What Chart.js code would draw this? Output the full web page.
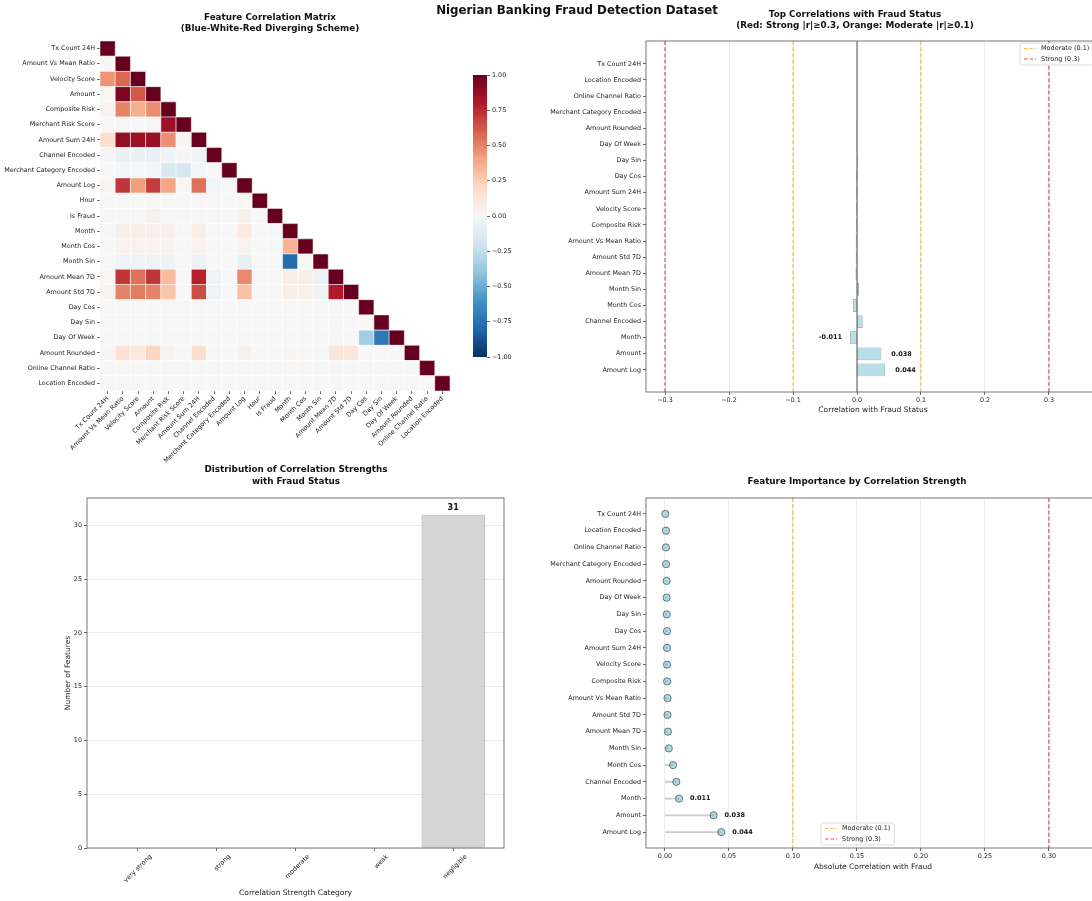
<!DOCTYPE html>
<html>
<head>
<meta charset="utf-8">
<title>Nigerian Banking Fraud Detection Dataset</title>
<script src="https://cdn.jsdelivr.net/npm/chart.js@4.4.1/dist/chart.umd.min.js"></script>
<style>
  html, body { margin: 0; padding: 0; background: #fff; }
  body { width: 1092px; height: 901px; position: relative; overflow: hidden; font-family: 'DejaVu Sans', sans-serif; color: #111; }
  canvas { position: absolute; }
  .ttl { position: absolute; transform: translate(-50%, -50%); text-align: center; font-weight: bold; font-size: 8.8px; line-height: 11px; white-space: nowrap; }
</style>
</head>
<body>
<canvas id="heat" width="460" height="470" style="left:0;top:0"></canvas>
<canvas id="cbar" width="80" height="420" style="left:460px;top:0"></canvas>
<canvas id="topcorr" width="600" height="430" style="left:540px;top:0"></canvas>
<canvas id="dist" width="540" height="451" style="left:0;top:450px"></canvas>
<canvas id="lolli" width="600" height="451" style="left:540px;top:450px"></canvas>

<div class="ttl" style="left:577px;top:10px;font-size:11.8px">Nigerian Banking Fraud Detection Dataset</div>
<div class="ttl" style="left:270px;top:23px">Feature Correlation Matrix<br>(Blue-White-Red Diverging Scheme)</div>
<div class="ttl" style="left:855px;top:19.5px">Top Correlations with Fraud Status<br>(Red: Strong |r|≥0.3, Orange: Moderate |r|≥0.1)</div>
<div class="ttl" style="left:296px;top:474.5px;line-height:12px">Distribution of Correlation Strengths<br>with Fraud Status</div>
<div class="ttl" style="left:857px;top:481px">Feature Importance by Correlation Strength</div>

<script>
// ---- data ----
const heatFeatures = ['Tx Count 24H', 'Amount Vs Mean Ratio', 'Velocity Score', 'Amount', 'Composite Risk',
  'Merchant Risk Score', 'Amount Sum 24H', 'Channel Encoded', 'Merchant Category Encoded', 'Amount Log',
  'Hour', 'Is Fraud', 'Month', 'Month Cos', 'Month Sin', 'Amount Mean 7D', 'Amount Std 7D', 'Day Cos',
  'Day Sin', 'Day Of Week', 'Amount Rounded', 'Online Channel Ratio', 'Location Encoded'];

// lower triangle of the correlation matrix (row i holds columns 0..i)
const heatCorr = [
  [1],
  [0.01, 1],
  [0.45, 0.58, 1],
  [0.01, 0.95, 0.62, 1],
  [0.04, 0.50, 0.36, 0.47, 1],
  [0.00, 0.01, 0.00, 0.01, 0.86, 1],
  [0.17, 0.88, 0.86, 0.87, 0.46, 0.02, 1],
  [-0.02, -0.07, -0.07, -0.07, -0.04, -0.02, -0.05, 1],
  [0.00, -0.02, -0.01, -0.02, -0.16, -0.18, -0.02, 0.00, 1],
  [0.02, 0.72, 0.42, 0.70, 0.40, 0.01, 0.55, -0.03, -0.01, 1],
  [0.00, 0.00, 0.00, 0.01, 0.00, 0.00, 0.00, 0.00, 0.00, 0.01, 1],
  [0.00, 0.00, 0.00, 0.04, 0.00, 0.00, 0.00, 0.01, 0.00, 0.04, 0.00, 1],
  [0.00, 0.06, 0.06, 0.05, 0.05, 0.01, 0.07, 0.00, 0.00, 0.09, 0.00, -0.01, 1],
  [0.00, 0.04, 0.04, 0.03, 0.03, 0.00, 0.04, 0.00, 0.00, 0.04, 0.00, -0.01, 0.35, 1],
  [0.00, -0.04, -0.05, -0.05, -0.04, 0.00, -0.06, 0.00, 0.00, -0.08, 0.00, 0.00, -0.78, 0.00, 1],
  [0.01, 0.72, 0.55, 0.72, 0.32, 0.00, 0.78, -0.05, 0.00, 0.48, 0.00, 0.00, 0.07, 0.06, -0.06, 1],
  [0.03, 0.50, 0.52, 0.50, 0.28, 0.00, 0.65, -0.04, 0.00, 0.30, 0.00, 0.00, 0.06, 0.05, -0.05, 0.80, 1],
  [0.00, 0.00, 0.00, 0.00, 0.00, 0.00, 0.00, 0.00, 0.00, 0.00, 0.00, 0.00, 0.00, 0.00, 0.00, 0.00, 0.00, 1],
  [0.00, 0.00, 0.00, 0.00, 0.00, 0.00, 0.00, 0.00, 0.00, 0.00, 0.00, 0.00, 0.00, 0.00, 0.00, 0.00, 0.00, 0.00, 1],
  [0.00, 0.00, 0.00, 0.00, 0.00, 0.00, 0.00, 0.00, 0.00, 0.00, 0.00, 0.00, 0.00, 0.00, 0.00, 0.00, 0.00, -0.35, -0.72, 1],
  [0.02, 0.15, 0.10, 0.22, 0.03, 0.00, 0.18, -0.01, 0.00, 0.05, 0.00, 0.00, 0.02, 0.01, -0.01, 0.12, 0.12, 0.00, 0.00, 0.00, 1],
  [0.00, 0.00, 0.00, 0.00, 0.00, 0.00, 0.00, 0.00, 0.00, 0.00, 0.00, 0.00, 0.00, 0.00, 0.00, 0.00, 0.00, 0.00, 0.00, 0.00, 0.00, 1],
  [0.00, 0.00, 0.00, 0.00, 0.00, 0.00, 0.00, 0.00, 0.00, 0.00, 0.00, 0.00, 0.00, 0.00, 0.00, 0.00, 0.00, 0.00, 0.00, 0.00, 0.00, 0.00, 1]
];
const cbarRange = [-1, 1];

// correlation of each feature with Is Fraud, sorted by |r| (top of the plot first)
const fraudFeatures = ['Tx Count 24H', 'Location Encoded', 'Online Channel Ratio', 'Merchant Category Encoded',
  'Amount Rounded', 'Day Of Week', 'Day Sin', 'Day Cos', 'Amount Sum 24H', 'Velocity Score', 'Composite Risk',
  'Amount Vs Mean Ratio', 'Amount Std 7D', 'Amount Mean 7D', 'Month Sin', 'Month Cos', 'Channel Encoded',
  'Month', 'Amount', 'Amount Log'];
const fraudCorr = [-0.0003, -0.0008, 0.0008, -0.0009, -0.0013, -0.0013, 0.0014, -0.0016, -0.0016, -0.0016,
  -0.0017, -0.0020, -0.0020, -0.0023, 0.0030, -0.0063, 0.0089, -0.011, 0.038, 0.044];
const fraudAbs = fraudCorr.map(v => Math.abs(v));

const strengthCats = ['very strong', 'strong', 'moderate', 'weak', 'negligible'];
const strengthCounts = [0, 0, 0, 0, 31];

const corrTicks = [-0.3, -0.2, -0.1, 0, 0.1, 0.2, 0.3];
const absTicks = [0, 0.05, 0.1, 0.15, 0.2, 0.25, 0.3];
const moderateCut = 0.1;
const strongCut = 0.3;
const labelCut = 0.01;

// ---- helpers ----
const rdbuStops = ['#053061', '#2166ac', '#4393c3', '#92c5de', '#d1e5f0', '#f7f7f7',
  '#fddbc7', '#f4a582', '#d6604d', '#b2182b', '#67001f'];

function hexRgb(h) {
  return [1, 3, 5].map(k => parseInt(h.substr(k, 2), 16));
}

function rdbu(v) {
  const t = (Math.max(-1, Math.min(1, v)) + 1) / 2 * 10;
  const k = Math.min(9, Math.floor(t));
  const f = t - k;
  const a = hexRgb(rdbuStops[k]), b = hexRgb(rdbuStops[k + 1]);
  const c = a.map((x, n) => Math.round(x + (b[n] - x) * f));
  return 'rgb(' + c.join(',') + ')';
}

const minus = s => s.replace('-', '\u2212');
const FONT = "'DejaVu Sans', sans-serif";
const MOD_COLOR = 'rgba(255,165,0,0.75)';
const STRONG_COLOR = 'rgba(200,40,60,0.8)';
const legendItems = [
  { label: 'Moderate (0.1)', color: MOD_COLOR },
  { label: 'Strong (0.3)', color: STRONG_COLOR }
];

Chart.defaults.font.family = FONT;
Chart.defaults.font.size = 6.4;
Chart.defaults.color = '#222';
Chart.defaults.animation = false;
Chart.defaults.responsive = false;
Chart.defaults.events = [];
Chart.defaults.plugins.legend.display = false;
Chart.defaults.plugins.tooltip.enabled = false;

const framePlugin = {
  id: 'frame',
  afterDraw(chart) {
    const a = chart.chartArea, ctx = chart.ctx;
    ctx.save();
    ctx.strokeStyle = '#555';
    ctx.lineWidth = 0.8;
    ctx.strokeRect(a.left, a.top, a.width, a.height);
    ctx.restore();
  }
};

function drawLegend(ctx, x, y) {
  ctx.save();
  ctx.font = '6.5px ' + FONT;
  const w = 25 + Math.max(...legendItems.map(it => ctx.measureText(it.label).width));
  const h = legendItems.length * 10.5 + 1;
  ctx.fillStyle = 'rgba(255,255,255,0.85)';
  ctx.strokeStyle = '#d4d4d4';
  ctx.lineWidth = 0.8;
  ctx.beginPath();
  if (ctx.roundRect) ctx.roundRect(x, y, w, h, 2); else ctx.rect(x, y, w, h);
  ctx.fill();
  ctx.stroke();
  legendItems.forEach((it, k) => {
    const cy = y + 5.5 + k * 10.5;
    ctx.strokeStyle = it.color;
    ctx.lineWidth = 1.2;
    ctx.setLineDash([3.5, 2]);
    ctx.beginPath();
    ctx.moveTo(x + 4, cy);
    ctx.lineTo(x + 16, cy);
    ctx.stroke();
    ctx.setLineDash([]);
    ctx.fillStyle = '#222';
    ctx.textBaseline = 'middle';
    ctx.fillText(it.label, x + 21, cy);
  });
  ctx.restore();
}

// vertical reference lines drawn through the x scale, plus the legend for them
function refPlugin(lines, legendAt) {
  return {
    id: 'refs',
    afterDatasetsDraw(chart) {
      const ctx = chart.ctx, a = chart.chartArea, x = chart.scales.x;
      ctx.save();
      ctx.beginPath();
      ctx.rect(a.left, a.top, a.width, a.height);
      ctx.clip();
      lines.forEach(l => {
        const px = x.getPixelForValue(l.value);
        ctx.strokeStyle = l.color;
        ctx.lineWidth = l.width;
        ctx.setLineDash(l.dash);
        ctx.beginPath();
        ctx.moveTo(px, a.top);
        ctx.lineTo(px, a.bottom);
        ctx.stroke();
      });
      ctx.restore();
    },
    afterDraw(chart) {
      const p = legendAt(chart.chartArea);
      drawLegend(chart.ctx, p.x, p.y);
    }
  };
}

const dashed = [4, 2.2];
const yIndexScale = (names, min, max, width) => ({
  type: 'linear', reverse: true, min: min, max: max, offset: false,
  afterBuildTicks: s => { s.ticks = names.map((n, i) => ({ value: i })); },
  ticks: { callback: v => names[v], autoSkip: false, padding: 2 },
  grid: { offset: false, drawOnChartArea: false, tickLength: 3, tickColor: '#444', lineWidth: 0.8 },
  border: { display: false },
  afterFit: s => { s.width = width; }
});

// ---- 1. correlation heatmap ----
const heatPoints = [];
heatCorr.forEach((row, i) => row.forEach((v, j) => {
  heatPoints.push({ x: heatFeatures[j], y: heatFeatures[i], v: v });
}));

function cellRadius(chart) {
  const a = chart.chartArea;
  if (!a) return 3;
  return (a.width / heatFeatures.length) / (2 * Math.SQRT1_2);
}

const heatAxis = (extra) => Object.assign({
  type: 'category', labels: heatFeatures, offset: true,
  grid: { offset: false, drawOnChartArea: false, tickLength: 3, tickColor: '#444', lineWidth: 0.8 },
  border: { display: false }
}, extra);

new Chart(document.getElementById('heat'), {
  type: 'scatter',
  data: {
    datasets: [{
      data: heatPoints,
      pointStyle: 'rect',
      pointRadius: c => cellRadius(c.chart),
      pointHoverRadius: c => cellRadius(c.chart),
      backgroundColor: c => (c.raw ? rdbu(c.raw.v) : '#fff'),
      borderColor: '#fff',
      borderWidth: 0.5
    }]
  },
  options: {
    layout: { padding: { top: 41, right: 10 }, autoPadding: false },
    scales: {
      x: heatAxis({
        ticks: { autoSkip: false, minRotation: 45, maxRotation: 45, padding: 1 },
        afterFit: s => { s.height = 79; }
      }),
      y: heatAxis({
        ticks: { autoSkip: false, padding: 2 },
        afterFit: s => { s.width = 100; }
      })
    }
  }
});

// colour bar
new Chart(document.getElementById('cbar'), {
  type: 'bar',
  data: {
    labels: [''],
    datasets: [{
      data: [cbarRange],
      barPercentage: 1,
      categoryPercentage: 1,
      borderWidth: 0,
      backgroundColor: c => {
        const a = c.chart.chartArea;
        if (!a) return '#f7f7f7';
        const g = c.chart.ctx.createLinearGradient(0, a.bottom, 0, a.top);
        rdbuStops.forEach((s, k) => g.addColorStop(k / (rdbuStops.length - 1), s));
        return g;
      }
    }]
  },
  options: {
    layout: { padding: { left: 13, top: 75, bottom: 63, right: 0 }, autoPadding: false },
    scales: {
      x: { display: false },
      y: {
        position: 'right', min: cbarRange[0], max: cbarRange[1],
        ticks: { stepSize: 0.25, padding: 2, callback: v => minus(v.toFixed(2)) },
        grid: { drawOnChartArea: false, tickLength: 3, tickColor: '#444', lineWidth: 0.8 },
        border: { display: false },
        afterFit: s => { s.width = 53; }
      }
    }
  }
});

// ---- 2. top correlations with fraud ----
const corrLabels = {
  id: 'corrLabels',
  afterDatasetsDraw(chart) {
    const ctx = chart.ctx, x = chart.scales.x, y = chart.scales.y;
    ctx.save();
    ctx.font = 'bold 6.5px ' + FONT;
    ctx.fillStyle = '#111';
    ctx.textBaseline = 'middle';
    fraudCorr.forEach((v, i) => {
      if (Math.abs(v) < labelCut) return;
      const px = x.getPixelForValue(v), py = y.getPixelForValue(i);
      ctx.textAlign = v > 0 ? 'left' : 'right';
      ctx.fillText(v.toFixed(3), v > 0 ? px + 10 : px - 8, py);
    });
    ctx.restore();
  }
};

new Chart(document.getElementById('topcorr'), {
  type: 'bar',
  data: {
    datasets: [{
      data: fraudFeatures.map((n, i) => ({ x: fraudCorr[i], y: i })),
      backgroundColor: 'rgba(173,216,230,0.85)',
      borderColor: 'rgba(60,80,90,0.6)',
      borderWidth: 0.7,
      borderSkipped: false,
      barPercentage: 1,
      categoryPercentage: 0.8
    }]
  },
  options: {
    indexAxis: 'y',
    layout: { padding: { top: 41, right: 40, bottom: 15 }, autoPadding: false },
    scales: {
      x: {
        type: 'linear', min: -0.3297, max: 0.3797,
        afterBuildTicks: s => { s.ticks = corrTicks.map(v => ({ value: v })); },
        ticks: { padding: 2, maxRotation: 0, callback: v => minus(v.toFixed(1)).replace('\u22120.0', '0.0') },
        grid: { color: 'rgba(176,176,176,0.3)', lineWidth: 0.8, tickLength: 3, tickColor: '#444' },
        border: { display: false },
        title: { display: true, text: 'Correlation with Fraud Status', font: { size: 7.5 }, padding: 0 },
        afterFit: s => { s.height = 23; }
      },
      y: yIndexScale(fraudFeatures, -1.42, 20.37, 106)
    }
  },
  plugins: [
    refPlugin([
      { value: -strongCut, color: STRONG_COLOR, width: 1.2, dash: dashed },
      { value: -moderateCut, color: MOD_COLOR, width: 1.2, dash: dashed },
      { value: 0, color: 'rgba(0,0,0,0.75)', width: 0.9, dash: [] },
      { value: moderateCut, color: MOD_COLOR, width: 1.2, dash: dashed },
      { value: strongCut, color: STRONG_COLOR, width: 1.2, dash: dashed }
    ], a => ({ x: a.left + 374, y: a.top + 2 })),
    corrLabels,
    framePlugin
  ]
});

// ---- 3. distribution of correlation strengths ----
const countLabels = {
  id: 'countLabels',
  afterDatasetsDraw(chart) {
    const ctx = chart.ctx, x = chart.scales.x, y = chart.scales.y;
    ctx.save();
    ctx.font = 'bold 8px ' + FONT;
    ctx.fillStyle = '#111';
    ctx.textAlign = 'center';
    ctx.textBaseline = 'bottom';
    strengthCounts.forEach((v, i) => {
      if (v > 0) ctx.fillText(String(v), x.getPixelForValue(i), y.getPixelForValue(v) - 3);
    });
    ctx.restore();
  }
};

new Chart(document.getElementById('dist'), {
  type: 'bar',
  data: {
    datasets: [{
      data: strengthCats.map((c, i) => ({ x: i, y: strengthCounts[i] })),
      backgroundColor: '#d6d6d6',
      borderColor: '#7a7a7a',
      borderWidth: 0.8,
      borderSkipped: false,
      barPercentage: 1,
      categoryPercentage: 0.8
    }]
  },
  options: {
    layout: { padding: { left: 60, top: 48, right: 36, bottom: 3 }, autoPadding: false },
    scales: {
      x: {
        type: 'linear', min: -0.645, max: 4.645, offset: false,
        afterBuildTicks: s => { s.ticks = strengthCats.map((c, i) => ({ value: i })); },
        ticks: { callback: v => strengthCats[v], autoSkip: false, minRotation: 45, maxRotation: 45, padding: 2, labelOffset: 13 },
        grid: { offset: false, drawOnChartArea: false, tickLength: 3, tickColor: '#444', lineWidth: 0.8 },
        border: { display: false },
        title: { display: true, text: 'Correlation Strength Category', font: { size: 7.5 }, padding: 0 },
        afterFit: s => { s.height = 50; }
      },
      y: {
        min: 0, max: 32.55,
        ticks: { stepSize: 5, includeBounds: false, padding: 2 },
        grid: { color: 'rgba(176,176,176,0.3)', lineWidth: 0.8, tickLength: 3, tickColor: '#444' },
        border: { display: false },
        title: { display: true, text: 'Number of Features', font: { size: 7.5 }, padding: 4 },
        afterFit: s => { s.width = 27; }
      }
    }
  },
  plugins: [countLabels, framePlugin]
});

// ---- 4. lollipop of absolute correlation ----
const absLabels = {
  id: 'absLabels',
  afterDatasetsDraw(chart) {
    const ctx = chart.ctx, x = chart.scales.x, y = chart.scales.y;
    ctx.save();
    ctx.font = 'bold 6.5px ' + FONT;
    ctx.fillStyle = '#111';
    ctx.textAlign = 'left';
    ctx.textBaseline = 'middle';
    fraudAbs.forEach((v, i) => {
      if (v < labelCut) return;
      ctx.fillText(v.toFixed(3), x.getPixelForValue(v) + 11, y.getPixelForValue(i));
    });
    ctx.restore();
  }
};

const absPoints = fraudFeatures.map((n, i) => ({ x: fraudAbs[i], y: i }));

new Chart(document.getElementById('lolli'), {
  type: 'bar',
  data: {
    datasets: [
      {
        type: 'bar',
        data: absPoints,
        backgroundColor: 'rgba(128,128,128,0.4)',
        borderWidth: 0,
        barThickness: 1.2
      },
      {
        type: 'scatter',
        data: absPoints,
        backgroundColor: 'rgba(173,216,230,0.95)',
        borderColor: '#4f6b73',
        borderWidth: 0.9,
        pointRadius: 3.6
      }
    ]
  },
  options: {
    indexAxis: 'y',
    layout: { padding: { top: 48, right: 40, bottom: 29 }, autoPadding: false },
    scales: {
      x: {
        type: 'linear', min: -0.0148, max: 0.3399,
        afterBuildTicks: s => { s.ticks = absTicks.map(v => ({ value: v })); },
        ticks: { padding: 2, maxRotation: 0, callback: v => v.toFixed(2) },
        grid: { color: 'rgba(176,176,176,0.3)', lineWidth: 0.8, tickLength: 3, tickColor: '#444' },
        border: { display: false },
        title: { display: true, text: 'Absolute Correlation with Fraud', font: { size: 7.5 }, padding: 0 },
        afterFit: s => { s.height = 24; }
      },
      y: yIndexScale(fraudFeatures, -0.95, 19.95, 106)
    }
  },
  plugins: [
    refPlugin([
      { value: moderateCut, color: MOD_COLOR, width: 1.2, dash: dashed },
      { value: strongCut, color: STRONG_COLOR, width: 1.2, dash: dashed }
    ], a => ({ x: a.left + 175, y: a.bottom - 25 })),
    absLabels,
    framePlugin
  ]
});
</script>
</body>
</html>
